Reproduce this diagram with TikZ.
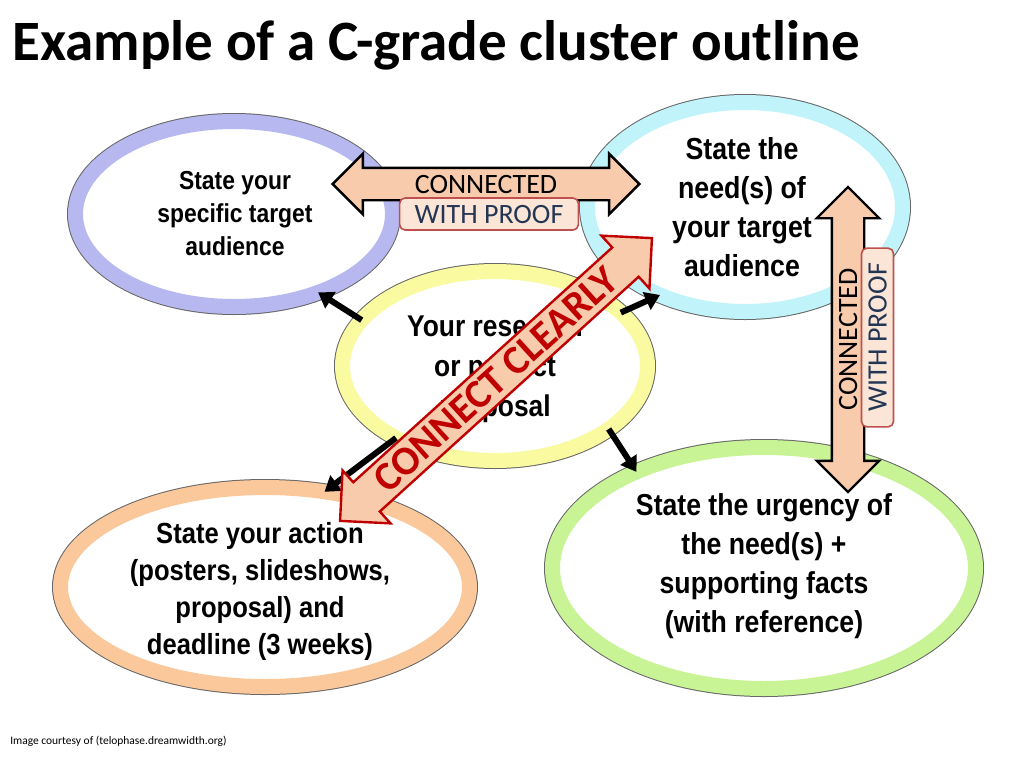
\documentclass[tikz,border=0pt]{standalone}
\usepackage{fontspec}
\setmainfont{Carlito}
\newfontfamily\arialn{Liberation Sans}[FakeStretch=0.88]
\usetikzlibrary{shapes.geometric,shapes.arrows,arrows.meta}

\definecolor{peach}{RGB}{248,203,173}
\definecolor{proofbg}{RGB}{251,229,214}
\definecolor{proofedge}{RGB}{192,80,77}
\definecolor{proofink}{RGB}{35,55,85}
\definecolor{clearred}{RGB}{192,0,0}
\definecolor{bandpurple}{RGB}{184,184,240}
\definecolor{bandcyan}{RGB}{192,244,250}
\definecolor{bandyellow}{RGB}{250,250,160}
\definecolor{bandgreen}{RGB}{200,244,150}
\definecolor{bandorange}{RGB}{250,200,155}

\tikzset{
    ring/.style={ellipse, inner sep=0pt, outer sep=0pt, fill=white, draw=#1, line width=11.25pt,
        preaction={draw=black!60, line width=12.75pt}},
    bubbletext/.style={align=center, inner sep=0pt, font=\arialn\bfseries},
    spoke/.style={line width=4.5pt, -{Triangle[length=11pt,width=14pt]}},
    linkarrow/.style={double arrow, double arrow tip angle=90, fill=peach, draw=black, line width=1.8pt,
        font=\fontsize{21pt}{21pt}\selectfont, text height=13.5pt, text depth=0pt,
        inner xsep=2pt, inner ysep=4.5pt, double arrow head extend=10.5pt, minimum height=230pt},
    proofbox/.style={rounded corners=4pt, fill=proofbg, draw=proofedge, line width=1.2pt, text=proofink,
        font=\fontsize{21pt}{21pt}\selectfont, text height=13.5pt, text depth=0pt, inner sep=0pt,
        minimum width=134pt, minimum height=24pt}
}

\begin{document}
\begin{tikzpicture}[x=0.75pt, y=-0.75pt]
    \fill[white] (0,0) rectangle (1024,768);
    \useasboundingbox (0,0) rectangle (1024,768);

    \node[ring=bandpurple, minimum width=237.75pt, minimum height=138.75pt] (audience) at (234,214) {};
    \node[ring=bandcyan, minimum width=236.25pt, minimum height=156.75pt] (needs) at (745,207) {};
    \node[ring=bandyellow, minimum width=228.75pt, minimum height=141.75pt] (hub) at (495,366) {};
    \node[ring=bandorange, minimum width=306.75pt, minimum height=149.25pt] (action) at (265,587) {};
    \node[ring=bandgreen, minimum width=317.25pt, minimum height=180.75pt] (urgency) at (764,568) {};

    \draw[spoke] (hub.161) -- (audience.-43);
    \draw[spoke] (hub.23) -- (needs.-134);
    \draw[spoke] (hub.-144) -- (action.58);
    \draw[spoke] (hub.-29) -- (urgency.143);

    \node[linkarrow] (topconn) at (486,184) {CONNECTED};
    \node[proofbox] (topproof) at (489,214) {WITH PROOF};
    \node[linkarrow, rotate=90, minimum height=228.75pt, double arrow head extend=11.25pt] (sideconn) at (848,339.5) {CONNECTED};
    \node[proofbox, rotate=90] (sideproof) at (877.5,337.5) {WITH PROOF};

    \node[bubbletext, font=\arialn\bfseries\fontsize{19.5pt}{24.75pt}\selectfont] (audience-txt) at (235,214)
        {State your\\specific target\\audience};
    \node[bubbletext, font=\arialn\bfseries\fontsize{22.8pt}{29.25pt}\selectfont] (needs-txt) at (742,207)
        {State the\\need(s) of\\your target\\audience};
    \node[bubbletext, font=\arialn\bfseries\fontsize{22.5pt}{30pt}\selectfont] (hub-txt) at (495,369)
        {Your research\\or project\\proposal};
    \node[bubbletext, font=\arialn\bfseries\fontsize{22.7pt}{29.25pt}\selectfont] (urgency-txt) at (764,566)
        {State the urgency of\\the need(s) +\\supporting facts\\(with reference)};
    \node[bubbletext, font=\arialn\bfseries\fontsize{21.8pt}{27.75pt}\selectfont] (action-txt) at (260,591)
        {State your action\\(posters, slideshows,\\proposal) and\\deadline (3 weeks)};

    \node[double arrow, double arrow tip angle=90, double arrow head extend=12pt, rotate=42.2,
        fill=peach, draw=clearred, line width=1.8pt, text=clearred, minimum height=315.75pt,
        font=\bfseries\fontsize{30.5pt}{30pt}\selectfont, text height=19.6pt, text depth=0pt,
        inner xsep=2pt, inner ysep=4.1pt] (clear) at (496,379.5) {CONNECT CLEARLY};

    \node[anchor=base west, inner sep=0pt, font=\bfseries\fontsize{42.8pt}{43pt}\selectfont] (title) at (12,60)
        {Example of a C-grade cluster outline};
    \node[anchor=base west, inner sep=0pt, font=\fontsize{8.6pt}{9pt}\selectfont] (credit) at (10,744)
        {Image courtesy of (telophase.dreamwidth.org)};
\end{tikzpicture}
\end{document}
